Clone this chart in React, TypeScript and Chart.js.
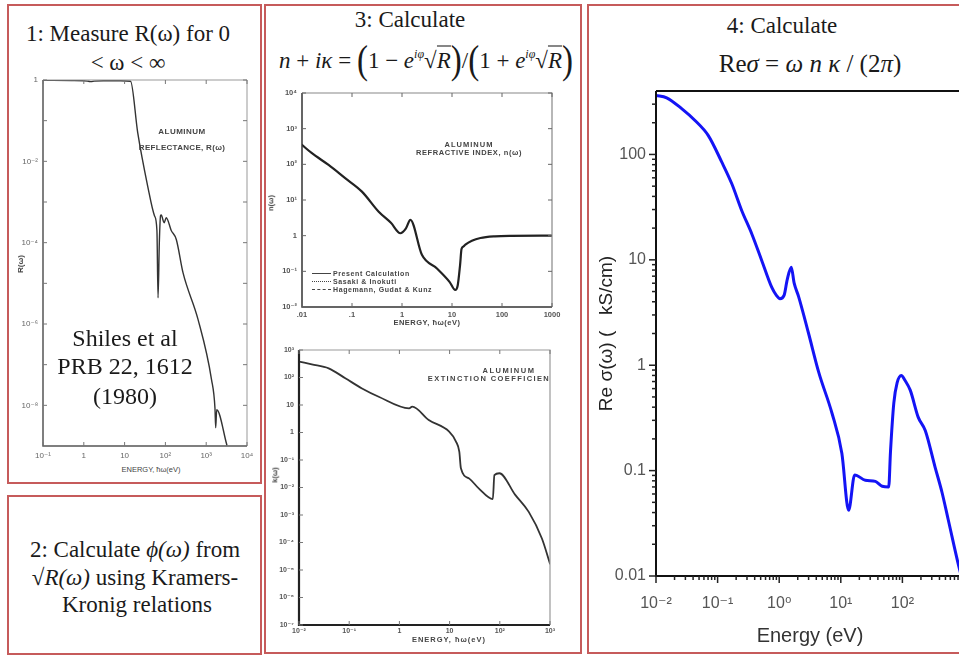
import React, { useEffect, useRef } from 'react';
import { Chart, registerables } from 'chart.js';

Chart.register(...registerables);

// ---------------- DATA ----------------
// Panel 1: aluminium reflectance R(ω) vs photon energy (eV)  (Shiles et al.)
const reflEnergy = [0.1, 0.5, 1.0, 1.3, 1.5, 1.8, 3, 8, 14, 21, 37, 54, 62, 66, 71, 76, 79, 93, 105, 139, 185, 271, 630, 1350, 1640, 1710, 1807, 3200];
const reflValue = [0.98, 0.97, 0.96, 0.93, 0.91, 0.94, 0.96, 0.96, 0.93, 0.05, 0.0024, 4.6e-4, 2e-4, 4.4e-6, 1e-4, 4.6e-4, 4.8e-4, 3.1e-4, 4.1e-4, 2.0e-4, 1.2e-4, 1.8e-5, 1.3e-6, 4.3e-8, 8.5e-9, 2.8e-9, 7.8e-9, 1.07e-9];
const reflXTicks = [0.1, 1, 10, 100, 1000, 10000];
const reflXLabels = ['10⁻¹', '1', '10', '10²', '10³', '10⁴'];
const reflYTicks = [1e-8, 1e-6, 1e-4, 1e-2, 1];
const reflYLabels = ['10⁻⁸', '10⁻⁶', '10⁻⁴', '10⁻²', '1'];
const reflYMinor = [1e-7, 1e-5, 1e-3, 1e-1];

// Panel 3 (top): refractive index n(ω)
const nEnergy = [0.01, 0.0158, 0.034, 0.073, 0.158, 0.342, 0.6, 0.93, 1.2, 1.47, 2.5, 5, 9, 11.6, 13, 14.5, 15.5, 17, 18.5, 25, 37, 72, 150, 1000];
const nValue = [350, 205, 96, 41, 17.2, 4.7, 2.3, 1.17, 1.6, 2.77, 0.29, 0.12, 0.05, 0.03, 0.04, 0.15, 0.42, 0.5, 0.56, 0.72, 0.86, 0.96, 0.99, 1.0];
const nXTicks = [0.01, 0.1, 1, 10, 100, 1000];
const nXLabels = ['.01', '.1', '1', '10', '100', '1000'];
const nYTicks = [0.01, 0.1, 1, 10, 100, 1000, 10000];
const nYLabels = ['10⁻²', '10⁻¹', '1', '10¹', '10²', '10³', '10⁴'];

// Panel 3 (bottom): extinction coefficient k(ω)
const kEnergy = [0.0107, 0.018, 0.039, 0.0836, 0.18, 0.387, 1.56, 1.8, 3.84, 9.8, 13.4, 15.6, 16.8, 24.7, 38, 72.6, 78, 98, 203, 377, 690, 1000];
const kValue = [370, 300, 215, 94, 40, 20, 7.6, 8.7, 2.85, 1.07, 0.47, 0.2, 0.05, 0.021, 0.0093, 0.0038, 0.028, 0.033, 0.0054, 0.0013, 1.4e-4, 1.7e-5];
const kXTicks = [0.01, 0.1, 1, 10, 100, 1000];
const kXLabels = ['10⁻²', '10⁻¹', '1', '10', '10²', '10³'];
const kYTicks = [1e-7, 1e-6, 1e-5, 1e-4, 1e-3, 1e-2, 1e-1, 1, 10, 100, 1000];
const kYLabels = ['10⁻⁷', '10⁻⁶', '10⁻⁵', '10⁻⁴', '10⁻³', '10⁻²', '10⁻¹', '1', '10', '10²', '10³'];

// Panel 4: Re σ(ω) (kS/cm) vs energy (eV)
const sigmaEnergy = [0.01, 0.0149, 0.0261, 0.043, 0.0707, 0.117, 0.17, 0.246, 0.358, 0.52, 0.755, 0.9, 1.03, 1.2, 1.35, 1.57, 1.75, 2.06, 3.0, 4.4, 7.2, 10.4, 13.4, 16.8, 25, 36.5, 47, 60, 64, 72.6, 82, 96, 110, 134, 181, 235, 339, 440, 556, 822, 1000];
const sigmaValue = [363, 345, 272, 210, 151, 84.5, 52.7, 29.4, 17.7, 9.87, 5.5, 4.6, 4.28, 4.6, 6.5, 8.5, 6.0, 4.5, 2.0, 0.85, 0.35, 0.146, 0.042, 0.091, 0.081, 0.079, 0.071, 0.07, 0.15, 0.44, 0.68, 0.8, 0.72, 0.58, 0.32, 0.24, 0.108, 0.062, 0.034, 0.0124, 0.008];
const sigmaXTicks = [0.01, 0.1, 1, 10, 100, 1000];
const sigmaXLabels = ['10⁻²', '10⁻¹', '10⁰', '10¹', '10²', ''];
const sigmaYTicks = [0.01, 0.1, 1, 10, 100];
const sigmaYLabels = ['0.01', '0.1', '1', '10', '100'];

const legendRows = ['Present Calculation', 'Sasaki & Inokuti', 'Hagemann, Gudat & Kunz'];
const legendDash = ['solid', 'dotted', 'dashed'];

// ---------------- HELPERS ----------------
type AxisCfg = {
  min: number; max: number; ticks: number[]; labels: string[]; minor?: number[]; pad: number;
  title?: { text: string; size: number; pad: number; color: string };
};
type PlotCfg = {
  left: number; top: number; width: number; height: number;
  area: { l: number; t: number; r: number; b: number };
  xs: number[]; ys: number[]; x: AxisCfg; y: AxisCfg;
  line: { color: string; width: number };
  font: { family: string; size: number; weight?: string };
  tickColor: string;
  axis: { color: string; width: number };
  frame?: { color: string; width: number };
  marks: { dir: number; major: number; minor: number; color: string; width: number; sides: string[] };
};

function minorLogTicks(min: number, max: number): number[] {
  const out: number[] = [];
  for (let d = Math.floor(Math.log10(min)); d <= Math.ceil(Math.log10(max)); d++) {
    for (let k = 2; k <= 9; k++) {
      const v = k * Math.pow(10, d);
      if (v > min && v < max) out.push(v);
    }
  }
  return out;
}

function makeMarks(c: PlotCfg) {
  return {
    id: 'marks',
    afterDraw(chart: any) {
      const { ctx, chartArea: a, scales } = chart;
      const sx = scales.x, sy = scales.y;
      ctx.save();
      ctx.lineCap = 'butt';
      if (c.frame) {
        ctx.strokeStyle = c.frame.color; ctx.lineWidth = c.frame.width;
        ctx.beginPath(); ctx.moveTo(a.left, a.top); ctx.lineTo(a.right, a.top); ctx.lineTo(a.right, a.bottom); ctx.stroke();
      }
      ctx.strokeStyle = c.axis.color; ctx.lineWidth = c.axis.width;
      ctx.beginPath(); ctx.moveTo(a.left, a.top); ctx.lineTo(a.left, a.bottom); ctx.lineTo(a.right, a.bottom); ctx.stroke();
      const m = c.marks;
      ctx.strokeStyle = m.color; ctx.lineWidth = m.width;
      const seg = (x1: number, y1: number, x2: number, y2: number) => { ctx.beginPath(); ctx.moveTo(x1, y1); ctx.lineTo(x2, y2); ctx.stroke(); };
      const xs: [number, number][] = [...c.x.ticks.map(v => [v, m.major] as [number, number]), ...(c.x.minor || []).map(v => [v, m.minor] as [number, number])];
      const ys: [number, number][] = [...c.y.ticks.map(v => [v, m.major] as [number, number]), ...(c.y.minor || []).map(v => [v, m.minor] as [number, number])];
      for (const [v, len] of xs) {
        if (v < c.x.min || v > c.x.max || len <= 0) continue;
        const px = sx.getPixelForValue(v);
        if (m.sides.includes('bottom')) seg(px, a.bottom, px, a.bottom - m.dir * len);
        if (m.sides.includes('top')) seg(px, a.top, px, a.top + m.dir * len);
      }
      for (const [v, len] of ys) {
        if (v < c.y.min || v > c.y.max || len <= 0) continue;
        const py = sy.getPixelForValue(v);
        if (m.sides.includes('left')) seg(a.left, py, a.left + m.dir * len, py);
        if (m.sides.includes('right')) seg(a.right, py, a.right - m.dir * len, py);
      }
      ctx.restore();
    },
  };
}

function buildConfig(c: PlotCfg): any {
  const lab = (a: AxisCfg) => (v: any) => {
    const i = a.ticks.findIndex(t => Math.abs(Math.log10(t) - Math.log10(Number(v))) < 1e-6);
    return i >= 0 ? a.labels[i] : '';
  };
  const axis = (a: AxisCfg, isX: boolean) => ({
    type: 'logarithmic',
    position: isX ? 'bottom' : 'left',
    min: a.min, max: a.max,
    grid: { display: false, drawTicks: false },
    border: { display: false },
    ticks: { autoSkip: false, maxRotation: 0, minRotation: 0, padding: a.pad, color: c.tickColor, font: c.font, callback: lab(a) },
    title: a.title
      ? { display: true, text: a.title.text, color: a.title.color, font: { family: c.font.family, size: a.title.size }, padding: isX ? { top: 0, bottom: a.title.pad } : { top: a.title.pad, bottom: 0 } }
      : { display: false },
    afterBuildTicks: (s: any) => { s.ticks = a.ticks.map(v => ({ value: v })); },
    afterFit: (s: any) => {
      if (isX) { s.height = c.height - c.area.b; s.paddingLeft = 0; s.paddingRight = 0; }
      else { s.width = c.area.l; s.paddingTop = 0; s.paddingBottom = 0; }
    },
  });
  return {
    type: 'line',
    data: {
      datasets: [{
        data: c.xs.map((x, i) => ({ x, y: c.ys[i] })),
        borderColor: c.line.color, borderWidth: c.line.width, pointRadius: 0, fill: false,
        cubicInterpolationMode: 'monotone', borderJoinStyle: 'round', borderCapStyle: 'round',
      }],
    },
    options: {
      animation: false, responsive: false, devicePixelRatio: 1, events: [],
      layout: { padding: { left: 0, top: c.area.t, right: c.width - c.area.r, bottom: 0 } },
      plugins: { legend: { display: false }, tooltip: { enabled: false } },
      scales: { x: axis(c.x, true), y: axis(c.y, false) },
    },
    plugins: [makeMarks(c)],
  };
}

function LogPlot({ cfg }: { cfg: PlotCfg }) {
  const ref = useRef<HTMLCanvasElement>(null);
  useEffect(() => {
    const chart = new Chart(ref.current as HTMLCanvasElement, buildConfig(cfg));
    return () => chart.destroy();
  }, []);
  return (
    <canvas ref={ref} width={cfg.width} height={cfg.height}
      style={{ position: 'absolute', left: cfg.left, top: cfg.top, width: cfg.width, height: cfg.height }} />
  );
}

// ---------------- CONFIGS ----------------
const SANS = "'Liberation Sans', 'DejaVu Sans', sans-serif";
const SERIF = "'Liberation Serif', 'DejaVu Serif', serif";

const reflCfg: PlotCfg = {
  left: 12, top: 70, width: 245, height: 395, area: { l: 31, t: 10, r: 235, b: 376 },
  xs: reflEnergy, ys: reflValue,
  x: { min: 0.1, max: 10000, ticks: reflXTicks, labels: reflXLabels, pad: 5 },
  y: { min: 1e-9, max: 1, ticks: reflYTicks, labels: reflYLabels, minor: reflYMinor, pad: 5 },
  line: { color: '#333', width: 1.4 },
  font: { family: SANS, size: 8 }, tickColor: '#666',
  axis: { color: '#555', width: 1.5 }, frame: { color: '#999', width: 1 },
  marks: { dir: 1, major: 4, minor: 4, color: '#777', width: 1, sides: ['left', 'bottom', 'top', 'right'] },
};

const nCfg: PlotCfg = {
  left: 270, top: 86, width: 298, height: 236, area: { l: 32, t: 7, r: 282, b: 221 },
  xs: nEnergy, ys: nValue,
  x: { min: 0.01, max: 1000, ticks: nXTicks, labels: nXLabels, pad: 3 },
  y: { min: 0.01, max: 10000, ticks: nYTicks, labels: nYLabels, pad: 5 },
  line: { color: '#222', width: 2.2 },
  font: { family: SANS, size: 7.5, weight: 'bold' }, tickColor: '#555',
  axis: { color: '#333', width: 1.5 }, frame: { color: '#888', width: 1.2 },
  marks: { dir: 1, major: 4, minor: 0, color: '#666', width: 1, sides: ['left', 'bottom', 'top', 'right'] },
};

const kCfg: PlotCfg = {
  left: 270, top: 342, width: 294, height: 296, area: { l: 29, t: 8, r: 280, b: 283 },
  xs: kEnergy, ys: kValue,
  x: { min: 0.01, max: 1000, ticks: kXTicks, labels: kXLabels, pad: 2 },
  y: { min: 1e-7, max: 1000, ticks: kYTicks, labels: kYLabels, pad: 5 },
  line: { color: '#333', width: 1.8 },
  font: { family: SANS, size: 7, weight: 'bold' }, tickColor: '#555',
  axis: { color: '#222', width: 2.2 }, frame: { color: '#999', width: 1.2 },
  marks: { dir: 1, major: 4, minor: 0, color: '#777', width: 1, sides: ['left', 'bottom', 'top'] },
};

const sigmaCfg: PlotCfg = {
  left: 592, top: 80, width: 392, height: 574, area: { l: 64, t: 11, r: 372, b: 496 },
  xs: sigmaEnergy, ys: sigmaValue,
  x: { min: 0.01, max: 1000, ticks: sigmaXTicks, labels: sigmaXLabels, minor: minorLogTicks(0.01, 1000), pad: 18,
    title: { text: 'Energy (eV)', size: 20, pad: 6, color: '#333' } },
  y: { min: 0.01, max: 400, ticks: sigmaYTicks, labels: sigmaYLabels, minor: minorLogTicks(0.01, 400), pad: 10,
    title: { text: 'Re σ(ω) (   kS/cm)', size: 19, pad: 3, color: '#222' } },
  line: { color: '#1414f5', width: 3 },
  font: { family: SANS, size: 16 }, tickColor: '#555',
  axis: { color: '#111', width: 2 }, frame: { color: '#111', width: 2 },
  marks: { dir: -1, major: 7, minor: 4, color: '#222', width: 1.5, sides: ['left', 'bottom'] },
};

// ---------------- LAYOUT ----------------
const RED = '#c65b5b';

function Box({ x, y, w, h }: { x: number; y: number; w: number; h: number }) {
  return <div style={{ position: 'absolute', left: x, top: y, width: w, height: h, border: `2px solid ${RED}`, boxSizing: 'border-box' }} />;
}

function T({ x, y, size, children, rot, style }: any) {
  return (
    <div style={{
      position: 'absolute', left: x, top: y, transform: `translate(-50%, -50%)${rot ? ' rotate(-90deg)' : ''}`,
      fontSize: size, whiteSpace: 'nowrap', lineHeight: 1, ...style,
    }}>{children}</div>
  );
}

const Paren = ({ ch }: { ch: string }) => (
  <span style={{ fontSize: 33, fontStyle: 'normal', display: 'inline-block', transform: 'scaleY(1.2)', verticalAlign: '-3px', lineHeight: 1 }}>{ch}</span>
);
const SqrtR = () => (
  <span><span style={{ fontStyle: 'normal' }}>√</span><span style={{ borderTop: '1.5px solid #111', fontStyle: 'italic', paddingTop: 1 }}>R</span></span>
);
const EIphi = () => (<span><i>e</i><sup style={{ fontSize: 12, fontStyle: 'italic', verticalAlign: '10px' }}>iφ</sup></span>);

const scan = { fontFamily: SANS, color: '#444', fontWeight: 'bold' as const };

export default function App() {
  return (
    <div style={{ position: 'fixed', left: 0, top: 0, width: 959, height: 656, overflow: 'hidden', background: '#fff', fontFamily: SERIF, color: '#1a1a1a' }}>
      <Box x={7} y={4} w={255} h={480} />
      <Box x={7} y={495} w={255} h={160} />
      <Box x={264} y={4} w={318} h={650} />
      <Box x={587} y={4} w={390} h={650} />

      {/* Panel 1 */}
      <T x={128} y={33} size={23}>1: Measure R(ω) for 0</T>
      <T x={128} y={62} size={23}>&lt; ω &lt; ∞</T>
      <LogPlot cfg={reflCfg} />
      <T x={182} y={132} size={8} style={{ ...scan, letterSpacing: 0.5 }}>ALUMINUM</T>
      <T x={182} y={148} size={8} style={{ ...scan, letterSpacing: 0.3 }}>REFLECTANCE, R(ω)</T>
      <T x={21} y={264} size={8} rot style={{ ...scan }}>R(ω)</T>
      <T x={151} y={470} size={7.5} style={{ ...scan, fontWeight: 'normal' }}>ENERGY, ħω(eV)</T>
      <T x={125} y={338} size={24}>Shiles et al</T>
      <T x={125} y={366} size={24}>PRB 22, 1612</T>
      <T x={125} y={396} size={24}>(1980)</T>

      {/* Panel 2 */}
      <T x={135} y={549} size={23}>2: Calculate <i>ϕ(ω)</i> from</T>
      <T x={135} y={577} size={23}>√<i>R(ω)</i> using Kramers-</T>
      <T x={137} y={604} size={23}>Kronig relations</T>

      {/* Panel 3 */}
      <T x={410} y={19} size={23}>3: Calculate</T>
      <T x={426} y={60} size={23}>
        <i>n</i> + <i>iκ</i> = <Paren ch="(" />1 − <EIphi /><SqrtR /><Paren ch=")" />/<Paren ch="(" />1 + <EIphi /><SqrtR /><Paren ch=")" />
      </T>
      <LogPlot cfg={nCfg} />
      <T x={469} y={145} size={7.5} style={{ ...scan, letterSpacing: 1 }}>ALUMINUM</T>
      <T x={469} y={153} size={7.5} style={{ ...scan, letterSpacing: 0.6 }}>REFRACTIVE INDEX, n(ω)</T>
      <T x={271} y={203} size={7.5} rot style={{ ...scan }}>n(ω)</T>
      <T x={427} y={323} size={7.5} style={{ ...scan, letterSpacing: 0.5 }}>ENERGY, ħω(eV)</T>
      {legendRows.map((r, i) => (
        <div key={r} style={{ position: 'absolute', left: 312, top: 269 + i * 8, height: 8, display: 'flex', alignItems: 'center', whiteSpace: 'nowrap' }}>
          <span style={{ display: 'inline-block', width: 19, borderTop: `1.3px ${legendDash[i]} #444`, marginRight: 2 }} />
          <span style={{ ...scan, fontSize: 7, letterSpacing: 0.6, lineHeight: 1 }}>{r}</span>
        </div>
      ))}
      <LogPlot cfg={kCfg} />
      <T x={509} y={371} size={7.5} style={{ ...scan, letterSpacing: 1.5 }}>ALUMINUM</T>
      <T x={489} y={379} size={7.5} style={{ ...scan, letterSpacing: 1.4 }}>EXTINCTION COEFFICIEN</T>
      <T x={275} y={475} size={7.5} rot style={{ ...scan }}>k(ω)</T>
      <T x={449} y={640} size={7.5} style={{ ...scan, letterSpacing: 1 }}>ENERGY, ħω(eV)</T>

      {/* Panel 4 */}
      <T x={782} y={25} size={23}>4: Calculate</T>
      <T x={810} y={63} size={25}>
        Re<i>σ</i> = <i>ω</i> <i>n</i> <i>κ</i> / (2<i>π</i>)
      </T>
      <LogPlot cfg={sigmaCfg} />
    </div>
  );
}
